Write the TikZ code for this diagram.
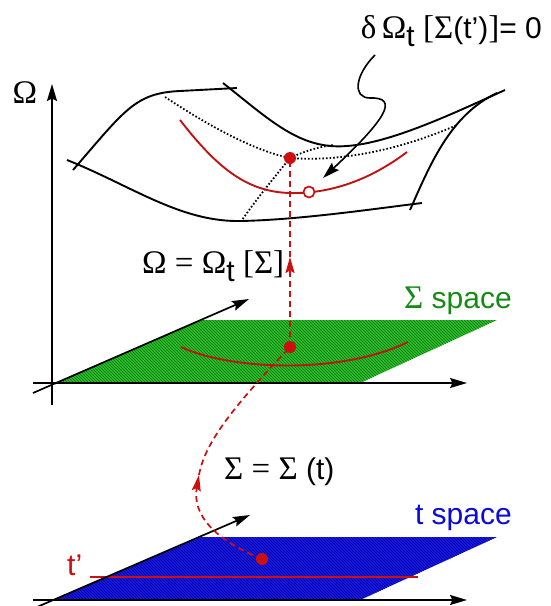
\documentclass[tikz,border=0pt]{standalone}
\usepackage{fontspec}
\setmainfont{Liberation Sans}
\newfontfamily\serf[Scale=1.1]{Liberation Serif}
\usetikzlibrary{arrows.meta,patterns}
\definecolor{myred}{RGB}{205,15,15}
\definecolor{curvered}{RGB}{190,20,20}
\definecolor{mygreen}{RGB}{45,190,45}
\definecolor{hatchgreen}{RGB}{15,120,15}
\definecolor{myblue}{RGB}{25,25,230}
\definecolor{hatchblue}{RGB}{0,0,150}
\definecolor{textgreen}{RGB}{20,140,20}
\definecolor{textblue}{RGB}{10,10,220}
\tikzset{
 ax/.style={line width=1.7pt,-{Stealth[length=17pt,width=10pt,inset=2.5pt]}},
 edgeline/.style={line width=1.9pt},
 dots/.style={line width=1.8pt, dash pattern=on 1.6pt off 2pt},
 rcurve/.style={line width=1.9pt,curvered},
 rdash/.style={line width=1.7pt,myred,dash pattern=on 6pt off 4pt},
 rdot/.style={circle,fill=myred,inner sep=0pt,minimum size=12pt},
 odot/.style={circle,draw=myred,fill=white,line width=1.7pt,inner sep=0pt,minimum size=11pt},
 lab/.style={inner sep=0pt,font=\fontsize{30}{30}\selectfont},
 rtip/.style={-{Stealth[length=16pt,width=9pt,inset=2.5pt]}}
}
\newcommand{\gk}[1]{{\serf #1}}
\newcommand{\sbt}{\raisebox{-0.28em}{t}}
\begin{document}
\begin{tikzpicture}[x=1pt,y=-1pt]
\useasboundingbox (0,0) rectangle (550,606);
% planes
\path[fill=mygreen, postaction={pattern=north west lines, pattern color=hatchgreen}]
  (56,383) -- (360,383) -- (497,320) -- (201,320) -- cycle;
\path[fill=myblue, postaction={pattern=north west lines, pattern color=hatchblue}]
  (53,600) -- (360,600) -- (497,537) -- (201,537) -- cycle;
\draw[rcurve] (181,347) .. controls (230,370) and (340,375) .. (408,342);
\draw[line width=1.7pt,myred] (90,577) -- (418,577);
% axes
\coordinate (vA) at (52,405); \coordinate (vB) at (52,84);
\coordinate (hA) at (33,383); \coordinate (hB) at (467,383);
\coordinate (dA) at (33,393); \coordinate (dB) at (249,299);
\coordinate (h2A) at (33,600); \coordinate (h2B) at (467,600);
\coordinate (d2A) at (37,607); \coordinate (d2B) at (250,515);
\draw[ax] (vA) -- (vB);
\draw[ax] (hA) -- (hB);
\draw[ax] (dA) -- (dB);
\draw[ax] (h2A) -- (h2B);
\draw[ax] (d2A) -- (d2B);
% surface
\draw[edgeline] (73,170) .. controls (125,110) and (135,93) .. (180,91) -- (237,88);
\draw[edgeline] (223,83) .. controls (270,120) and (300,150) .. (347,146) .. controls (390,143) and (450,115) .. (505,90);
\draw[edgeline] (410,210) .. controls (430,165) and (450,115) .. (497,93);
\draw[edgeline] (67,160) .. controls (130,185) and (180,222) .. (240,221) .. controls (300,220) and (380,208) .. (422,203);
\coordinate (sd) at (290,158);
\draw[dots] (165,97) .. controls (200,120) and (250,150) .. (sd);
\draw[dots] (sd) .. controls (272,180) and (256,200) .. (242,220);
\draw[dots] (sd) .. controls (305,151) and (318,147) .. (333,145);
\draw[dots] (sd) .. controls (340,162) and (400,150) .. (457,125);
\draw[rcurve] (180,120) .. controls (215,165) and (245,192) .. (290,193) .. controls (330,194) and (370,180) .. (407,152);
% dots
\node[rdot] (surfdot) at (sd) {};
\node[odot] (mindot) at (309,192) {};
\node[rdot] (sigdot) at (290,347) {};
\node[rdot] (tdot) at (262,559) {};
% dashed connectors
\coordinate (vmid) at (290,257);
\draw[rdash,rtip] (sigdot.center) -- (vmid);
\draw[rdash] (vmid) -- (surfdot.center);
\coordinate (cmid) at (199,475);
\draw[rdash,rtip] (tdot.center) .. controls (215,540) and (192,515) .. (cmid);
\draw[rdash] (cmid) .. controls (205,440) and (240,400) .. (sigdot.center);
% labels
\node[lab,anchor=base] (omlab) at (25,103) {\gk{Ω}};
\node[lab,anchor=base east] (toplab) at (542,38) {\gk{δ\,Ω}\sbt\ \gk{[Σ}(t’)\gk{]}= 0};
\node[lab,anchor=base west] (maplab) at (142,273) {\gk{Ω = Ω}\sbt\ \gk{[Σ]}};
\node[lab,anchor=base east,text=textgreen] (sigsp) at (512,308) {\gk{Σ} space};
\node[lab,anchor=base west] (sigt) at (224,479) {\gk{Σ = Σ} (t)};
\node[lab,anchor=base east,text=textblue] (tsp) at (512,524) {t space};
\node[lab,anchor=base west,text=myred] (tp) at (67,575) {t’};
% squiggle arrow
\coordinate (sqA) at (375,55);
\draw[line width=1.6pt,-{Stealth[length=17pt,width=10pt,inset=2.5pt]}] (sqA) .. controls (355,75) and (352,98) .. (370,98) .. controls (400,97) and (385,120) .. (323,178);
\end{tikzpicture}
\end{document}
